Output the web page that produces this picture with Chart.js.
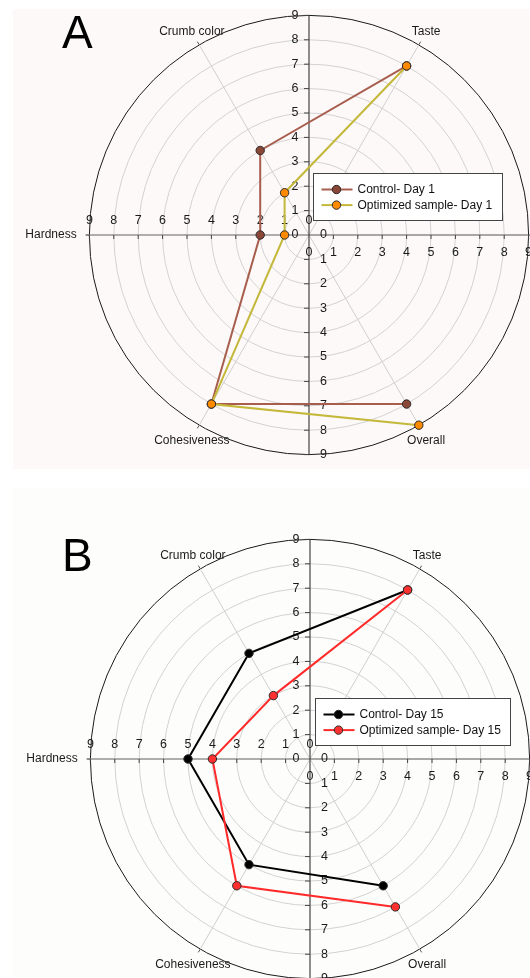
<!DOCTYPE html>
<html>
<head>
<meta charset="utf-8">
<script src="https://cdn.jsdelivr.net/npm/chart.js@4/dist/chart.umd.min.js"></script>
<style>
html,body{margin:0;padding:0;width:530px;height:978px;overflow:hidden;background:#fff;}
body{position:relative;}
.panel{position:absolute;left:13px;width:517px;}
#pa{top:9px;height:460px;background:#fdf9f8;}
#pb{top:488px;height:490px;background:#fdfdfb;}
canvas{position:absolute;left:0;}
#ca{top:0;}
#cb{top:524px;}
.letter{position:absolute;font-family:"Liberation Sans",Arial,sans-serif;font-size:46px;line-height:46px;color:#000;}
</style>
</head>
<body>
<div class="panel" id="pa"></div>
<div class="panel" id="pb"></div>
<canvas id="ca" width="618" height="470"></canvas>
<canvas id="cb" width="620" height="470"></canvas>
<div class="letter" style="left:62px;top:9px;">A</div>
<div class="letter" style="left:62px;top:532px;">B</div>
<script>
// ---- data ----
const attributes = ['Taste', 'Crumb color', 'Hardness', 'Cohesiveness', 'Overall'];
const controlDay1 = [8, 4, 2, 8, 8];
const optimizedDay1 = [8, 2, 1, 8, 9];
const controlDay15 = [8, 5, 5, 5, 6];
const optimizedDay15 = [8, 3, 4, 6, 7];
const radialTicks = [0, 1, 2, 3, 4, 5, 6, 7, 8, 9];
const seriesNamesA = ['Control- Day 1', 'Optimized sample- Day 1'];
const seriesNamesB = ['Control- Day 15', 'Optimized sample- Day 15'];

// spokes clockwise starting at the Taste spoke; -1 = unlabelled spoke on the 0° axis
const spokeOrder = [0, -1, 4, 3, 2, 1];
const toRadar = arr => spokeOrder.map(i => i < 0 ? null : arr[i]);
const radarLabels = spokeOrder.map(i => i < 0 ? '' : attributes[i]);

const RMAX = radialTicks[radialTicks.length - 1];
const SCALE_MAX = RMAX * 235 / 219.6;   // so that value 9 sits at 219.6px
const FONT = '"Liberation Sans", Arial, sans-serif';

const polarDecor = {
  id: 'polarDecor',
  beforeDatasetsDraw(chart) {
    const s = chart.scales.r, ctx = chart.ctx;
    const cx = s.xCenter, cy = s.yCenter;
    const d = v => s.getDistanceFromCenterForValue(v);
    const n = chart.data.labels.length;
    ctx.save();
    // spokes
    for (let i = 0; i < n; i++) {
      if (chart.data.labels[i] === '') continue;
      const p1 = s.getPointPosition(i, d(RMAX));
      const p2 = s.getPointPosition(i, d(RMAX + 0.15));
      ctx.strokeStyle = '#cfcfcf'; ctx.lineWidth = 1;
      ctx.beginPath(); ctx.moveTo(cx, cy); ctx.lineTo(p1.x, p1.y); ctx.stroke();
      ctx.strokeStyle = '#555'; 
      ctx.beginPath(); ctx.moveTo(p1.x, p1.y); ctx.lineTo(p2.x, p2.y); ctx.stroke();
    }
    // axis lines
    ctx.lineWidth = 1.2;
    ctx.strokeStyle = '#777';
    ctx.beginPath(); ctx.moveTo(cx - d(RMAX + 0.15), cy); ctx.lineTo(cx, cy); ctx.stroke();
    ctx.strokeStyle = '#555';
    ctx.beginPath(); ctx.moveTo(cx, cy); ctx.lineTo(cx + d(RMAX + 0.15), cy); ctx.stroke();
    ctx.strokeStyle = '#444';
    ctx.beginPath(); ctx.moveTo(cx, cy - d(RMAX)); ctx.lineTo(cx, cy + d(RMAX)); ctx.stroke();
    // tick marks
    ctx.lineWidth = 1;
    ctx.strokeStyle = '#444';
    radialTicks.forEach(v => {
      if (v === 0) return;
      const r = d(v);
      ctx.beginPath();
      ctx.moveTo(cx - 5, cy - r); ctx.lineTo(cx, cy - r);
      ctx.moveTo(cx - 5, cy + r); ctx.lineTo(cx, cy + r);
      ctx.moveTo(cx + r, cy); ctx.lineTo(cx + r, cy + 4);
      ctx.moveTo(cx - r, cy); ctx.lineTo(cx - r, cy + 4);
      ctx.stroke();
    });
    // tick labels on the four half-axes
    ctx.fillStyle = '#1a1a1a';
    ctx.font = '12.5px ' + FONT;
    ctx.textBaseline = 'middle';
    radialTicks.forEach(v => {
      const r = d(v), t = String(v);
      ctx.textAlign = 'right'; ctx.fillText(t, cx - 10.5, cy - r);
      ctx.textAlign = 'left'; ctx.fillText(t, cx + 11, cy + r);
      ctx.textAlign = 'center'; ctx.fillText(t, cx + r, cy + 17.5);
      ctx.fillText(t, cx - r, cy - 14.5);
    });
    ctx.restore();
  },
  afterDatasetsDraw(chart, args, opts) {
    const s = chart.scales.r, ctx = chart.ctx;
    const cx = s.xCenter, cy = s.yCenter;
    const d = v => s.getDistanceFromCenterForValue(v);
    ctx.save();
    // spoke labels
    ctx.font = '12px ' + FONT;
    ctx.fillStyle = '#1a1a1a';
    ctx.textBaseline = 'middle';
    chart.data.labels.forEach((lab, i) => {
      if (!lab) return;
      let p = s.getPointPosition(i, d(RMAX + 0.6));
      const c = Math.cos(p.angle), sn = Math.sin(p.angle);
      if (Math.abs(c) > 0.99) {
        p = s.getPointPosition(i, d(RMAX + 0.52));
        ctx.textAlign = c < 0 ? 'right' : 'left';
        ctx.fillText(lab, p.x, p.y);
      } else {
        ctx.textAlign = 'center';
        ctx.fillText(lab, p.x, p.y + (sn > 0 ? 3 : 0));
      }
    });
    // legend
    const ds = chart.data.datasets;
    ctx.font = '12px ' + FONT;
    let tw = 0;
    ds.forEach(x => { tw = Math.max(tw, ctx.measureText(x.label).width); });
    const bx = Math.round(cx + opts.dx) + 0.5, by = Math.round(cy + opts.dy) + 0.5;
    const bw = Math.round(44 + tw + 10), bh = 47;
    ctx.fillStyle = '#fff';
    ctx.fillRect(bx, by, bw, bh);
    ctx.strokeStyle = '#444'; ctx.lineWidth = 1;
    ctx.strokeRect(bx, by, bw, bh);
    ds.forEach((x, k) => {
      const y = by + 16 + k * 15.6;
      ctx.strokeStyle = x.borderColor; ctx.lineWidth = 2;
      ctx.beginPath(); ctx.moveTo(bx + 8, y); ctx.lineTo(bx + 39, y); ctx.stroke();
      ctx.fillStyle = x.pointBackgroundColor;
      ctx.strokeStyle = x.pointBorderColor; ctx.lineWidth = 1;
      ctx.beginPath(); ctx.arc(bx + 23, y, 4.2, 0, Math.PI * 2); ctx.fill(); ctx.stroke();
      ctx.fillStyle = '#111';
      ctx.textAlign = 'left'; ctx.textBaseline = 'middle';
      ctx.fillText(x.label, bx + 44, y + 0.5);
    });
    ctx.restore();
  }
};

function makeChart(id, names, ctrl, opt, col, leg) {
  const common = { fill: false, borderWidth: 2, pointRadius: 4.2, pointBorderWidth: 1,
                   pointBorderColor: '#2a2a2a', tension: 0, spanGaps: false };
  return new Chart(document.getElementById(id), {
    type: 'radar',
    data: {
      labels: radarLabels,
      datasets: [
        Object.assign({ label: names[0], data: toRadar(ctrl), borderColor: col.cl,
                        pointBackgroundColor: col.cp, order: 1 }, common),
        Object.assign({ label: names[1], data: toRadar(opt), borderColor: col.ol,
                        pointBackgroundColor: col.op, order: 0 }, common)
      ]
    },
    options: {
      responsive: false,
      animation: false,
      events: [],
      layout: { padding: 0 },
      plugins: { legend: { display: false }, tooltip: { enabled: false }, polarDecor: leg },
      scales: {
        r: {
          min: 0, max: SCALE_MAX, startAngle: 30,
          ticks: { display: false, stepSize: 1 },
          pointLabels: { display: false },
          angleLines: { display: false },
          grid: {
            circular: true, lineWidth: 1,
            color: c => c.tick.value > RMAX + 0.01 ? 'rgba(0,0,0,0)' :
                        (c.tick.value === RMAX ? '#1a1a1a' : '#d2d2d2')
          }
        }
      }
    },
    plugins: [polarDecor]
  });
}

makeChart('ca', seriesNamesA, controlDay1, optimizedDay1,
  { cl: '#a85e4e', cp: '#8a4636', ol: '#c4b83a', op: '#ff8a00' }, { dx: 4, dy: -62 });
makeChart('cb', seriesNamesB, controlDay15, optimizedDay15,
  { cl: '#000000', cp: '#000000', ol: '#ff2a2a', op: '#ff3030' }, { dx: 5, dy: -61.5 });
</script>
</body>
</html>
